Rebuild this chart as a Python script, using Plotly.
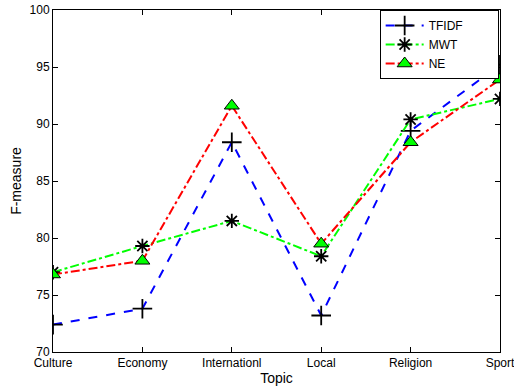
import plotly.graph_objects as go

topics = ["Culture", "Economy", "Internationl", "Local", "Religion", "Sport"]
tfidf = [72.4, 73.8, 88.4, 73.2, 89.4, 95.2]
mwt = [77.0, 79.3, 81.5, 78.4, 90.4, 92.2]
ne = [76.8, 78.0, 91.6, 79.5, 88.4, 93.9]
series_names = ["TFIDF", "MWT", "NE"]
y_ticks = [70, 75, 80, 85, 90, 95, 100]

pad = "\u00a0" * 9  # widen legend box like the MATLAB legend

fig = go.Figure()
fig.add_trace(go.Scatter(
    x=topics, y=tfidf, name=series_names[0] + pad, mode="lines+markers",
    line=dict(color="#0000ff", width=2, dash="dash"),
    marker=dict(symbol="cross-thin", size=14, line=dict(color="black", width=1.8)),
))
fig.add_trace(go.Scatter(
    x=topics, y=mwt, name=series_names[1] + pad, mode="lines+markers",
    line=dict(color="#00ff00", width=2, dash="dashdot"),
    marker=dict(symbol="asterisk", size=12, line=dict(color="black", width=1.8)),
))
fig.add_trace(go.Scatter(
    x=topics, y=ne, name=series_names[2] + pad, mode="lines+markers",
    line=dict(color="#ff0000", width=2, dash="dashdot"),
    marker=dict(symbol="triangle-up", size=13, color="#00ff00", line=dict(color="black", width=1)),
))

fig.update_layout(
    width=514, height=391,
    margin=dict(l=53, r=14, t=10, b=39, autoexpand=False),
    paper_bgcolor="white", plot_bgcolor="white",
    font=dict(family="Liberation Sans, Arial, sans-serif", size=12, color="black"),
    showlegend=True,
    legend=dict(x=0.997, y=1.0, xanchor="right", yanchor="top",
                bordercolor="black", borderwidth=1, bgcolor="white",
                font=dict(size=12), itemwidth=38, tracegroupgap=0),
)
fig.update_xaxes(
    type="category", range=[0, 5], automargin=False, ticklabeloverflow="allow",
    title=dict(text="Topic", standoff=0),
    showline=True, linecolor="black", linewidth=1, mirror="ticks",
    ticks="inside", ticklen=5, tickcolor="black", showgrid=False, zeroline=False,
)
fig.update_yaxes(
    range=[70, 100], tickvals=y_ticks, automargin=False, ticklabeloverflow="allow",
    title=dict(text="F-measure", standoff=4),
    showline=True, linecolor="black", linewidth=1, mirror="ticks",
    ticks="inside", ticklen=5, tickcolor="black", showgrid=False, zeroline=False,
)
fig.write_html("out.html", config={"displayModeBar": False},
               post_script="document.body.style.margin='0';")
